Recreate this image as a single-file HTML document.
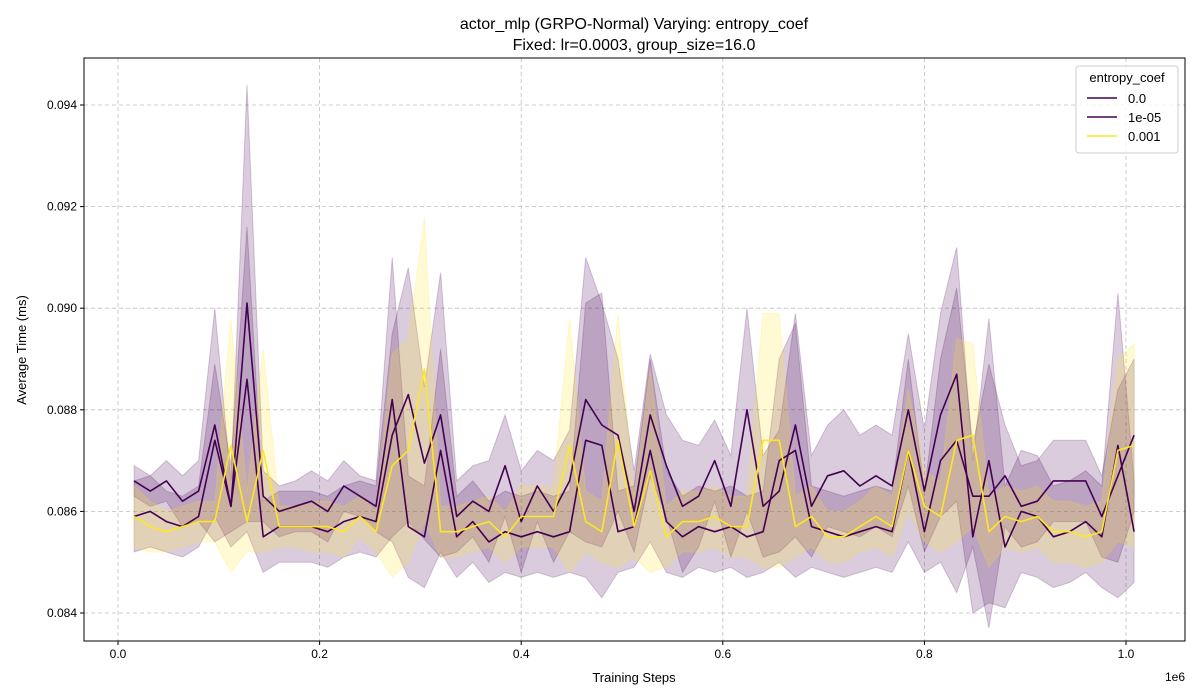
<!DOCTYPE html>
<html><head><meta charset="utf-8"><style>
body{margin:0;background:#fff;}
svg{display:block;font-family:"Liberation Sans","DejaVu Sans",sans-serif;}
</style></head><body>
<svg id="chart" width="1200" height="700" viewBox="0 0 1200 700"></svg>
<script>
const steps=[];for(let k=1;k<=63;k++)steps.push(k*16000);
const seriesA=[0.0866,0.0864,0.0866,0.0862,0.0864,0.0877,0.0861,0.0901,0.0863,0.0860,0.0861,0.0862,0.0860,0.0865,0.0863,0.0861,
0.0882,0.0857,
0.0855,0.0872,0.0855,0.0858,0.0854,0.0856,0.0855,0.0856,0.0855,0.0856,0.0874,0.0873,0.0856,0.0857,0.0872,0.0858,0.0855,0.0857,
0.0856,0.0857,0.0855,0.0856,0.0870,0.0872,0.0857,0.0856,0.0855,0.0856,0.0857,0.0856,0.0872,0.0856,0.0870,0.0874,
0.0863,0.0863,0.0867,0.0861,0.0862,0.0866,0.0866,0.0866,0.0859,0.0867,0.0875];
const spreadA=[.0003,.0003,.0004,.0005,.0006,.0023,.0005,.0043,.0005,.0005,.0005,.0006,.0006,.0005,.0004,.0005,
.0028,.0010,
.0010,.0020,.0008,.0008,.0008,.0008,.0008,.0008,.0008,.0008,.0027,.0030,.0008,.0008,.0018,.0010,.0008,.0008,
.0008,.0008,.0008,.0008,.0020,.0025,.0008,.0008,.0008,.0008,.0008,.0008,.0018,.0008,.0020,.0030,
.0010,.0026,.0010,.0008,.0008,.0008,.0008,.0008,.0008,.0017,.0015];
const seriesB=[0.0859,0.0860,0.0858,0.0857,0.0859,0.0874,0.0861,0.0886,0.0855,0.0857,0.0857,0.0857,0.0856,0.0858,0.0859,0.0858,
0.0875,0.0883,
0.08695,0.0879,0.0859,0.0862,0.0860,0.0869,0.0858,0.0865,0.0860,0.0866,0.0882,0.0877,0.0875,0.0860,0.0879,0.0869,0.0861,0.0863,
0.0870,0.0861,0.0880,0.0861,0.0864,0.0877,0.0861,0.0867,0.0868,0.0865,0.0867,0.0865,0.0880,0.0864,0.0879,0.0887,
0.0855,0.0870,0.0853,0.0860,0.0859,0.0855,0.0856,0.0858,0.0855,0.0873,0.0856];
const spreadB=[.0007,.0007,.0006,.0006,.0006,.0015,.0008,.0030,.0007,.0007,.0007,.0007,.0007,.0007,.0007,.0007,
.0020,.0025,
.0015,.0028,.0007,.0007,.0010,.0010,.0010,.0007,.0010,.0010,.0028,.0024,.0015,.0008,.0012,.0010,.0013,.0010,
.0008,.0010,.0020,.0010,.0012,.0022,.0010,.0010,.0012,.0010,.0010,.0010,.0015,.0012,.0020,.0025,
.0015,.0028,.0012,.0012,.0012,.0010,.0010,.0010,.0010,.0030,.0010];
const seriesY=[0.0859,0.0857,0.0856,0.0857,0.0858,0.0858,0.0873,0.0858,0.0872,0.0857,0.0857,0.0857,0.0857,0.0856,0.0859,0.0856,0.0869,
0.0872,0.0888,0.0856,0.0856,0.0857,0.0858,0.0855,0.0859,0.0859,0.0859,0.0873,0.0858,0.0856,0.0874,0.0857,0.0868,0.0855,0.0858,0.0858,
0.0859,0.0857,0.0857,0.0874,0.0874,0.0857,0.0859,0.0855,0.0855,0.0857,0.0859,0.0857,0.0872,0.0861,0.0859,0.0874,0.0875,0.0856,
0.0859,0.0858,0.0859,0.0856,0.0856,0.0855,0.0856,0.0872,0.0873];
const spreadY=[.0006,.0005,.0004,.0004,.0004,.0004,.0025,.0006,.0020,.0004,.0004,.0005,.0005,.0005,.0004,.0004,.0022,
.0022,.0030,.0005,.0005,.0005,.0005,.0005,.0006,.0006,.0006,.0025,.0006,.0006,.0025,.0006,.0020,.0006,.0006,.0006,
.0006,.0006,.0006,.0025,.0025,.0006,.0006,.0005,.0005,.0005,.0006,.0006,.0012,.0007,.0007,.0020,.0018,.0007,
.0006,.0006,.0006,.0006,.0006,.0006,.0006,.0018,.0020];
const xTicks=[0,0.2,0.4,0.6,0.8,1.0];
const xTickLabels=["0.0","0.2","0.4","0.6","0.8","1.0"];
const yTicks=[0.084,0.086,0.088,0.090,0.092,0.094];
const yTickLabels=["0.084","0.086","0.088","0.090","0.092","0.094"];
const legendLabels=["0.0","1e-05","0.001"];

const L=84,R=1185,T=58,B=641;
const xs=v=>118+v/1e6*1008;
const ys=v=>613-(v-0.084)*101600/2;
const svg=document.getElementById('chart');
const NS='http://www.w3.org/2000/svg';
function mk(tag,attrs,parent){const e=document.createElementNS(NS,tag);for(const k in attrs)e.setAttribute(k,attrs[k]);(parent||svg).appendChild(e);return e;}

let t=mk('text',{x:634,y:29,'text-anchor':'middle','font-size':16,fill:'#000'});t.textContent='actor_mlp (GRPO-Normal) Varying: entropy_coef';


t=mk('text',{x:634,y:50,'text-anchor':'middle','font-size':16,fill:'#000'});t.textContent='Fixed: lr=0.0003, group_size=16.0';



const grid=mk('g',{});


xTicks.forEach(v=>{const x=xs(v*1e6);mk('line',{x1:x,x2:x,y1:T,y2:B,stroke:'#b0b0b0','stroke-width':0.8,'stroke-dasharray':'4,3',opacity:0.8},grid);});
yTicks.forEach(v=>{const y=ys(v);mk('line',{x1:L,x2:R,y1:y,y2:y,stroke:'#b0b0b0','stroke-width':0.8,'stroke-dasharray':'4,3',opacity:0.8},grid);});

function band(vals,sp,color,name){
  let d='';vals.forEach((v,i)=>{d+=(i?'L':'M')+xs(steps[i]).toFixed(1)+','+ys(v+sp[i]).toFixed(1);});
  for(let i=vals.length-1;i>=0;i--)d+='L'+xs(steps[i]).toFixed(1)+','+ys(vals[i]-sp[i]).toFixed(1);
  const p=mk('path',{d:d+'Z',fill:color,'fill-opacity':0.2,stroke:color,'stroke-opacity':0.2});
  
  
}
function line(vals,color,name){
  let d='';vals.forEach((v,i)=>{d+=(i?'L':'M')+xs(steps[i]).toFixed(1)+','+ys(v).toFixed(1);});
  const p=mk('path',{d:d,fill:'none',stroke:color,'stroke-width':1.6,'stroke-linejoin':'round'});
  
  
}
band(seriesA,spreadA,'#440154','band-0.0');
band(seriesB,spreadB,'#440154','band-1e-05');
band(seriesY,spreadY,'#fde725','band-0.001');
line(seriesA,'#440154','line-0.0');
line(seriesB,'#440154','line-1e-05');
line(seriesY,'#fde725','line-0.001');

const fr=mk('rect',{x:L,y:T,width:R-L,height:B-T,fill:'none',stroke:'#000','stroke-width':1});


xTicks.forEach((v,i)=>{const x=xs(v*1e6);mk('line',{x1:x,x2:x,y1:B,y2:B+4,stroke:'#000'});
  const tt=mk('text',{x:x,y:B+17,'text-anchor':'middle','font-size':12,fill:'#000'});tt.textContent=xTickLabels[i];
  
  });
yTicks.forEach((v,i)=>{const y=ys(v);mk('line',{x1:L-4,x2:L,y1:y,y2:y,stroke:'#000'});
  const tt=mk('text',{x:L-7,y:y+4,'text-anchor':'end','font-size':12,fill:'#000'});tt.textContent=yTickLabels[i];
  
  });
t=mk('text',{x:634,y:682,'text-anchor':'middle','font-size':13,fill:'#000'});t.textContent='Training Steps';


t=mk('text',{x:1185,y:681,'text-anchor':'end','font-size':12,fill:'#000'});t.textContent='1e6';


t=mk('text',{x:0,y:0,'text-anchor':'middle','font-size':13,fill:'#000',transform:'translate(26,350) rotate(-90)'});t.textContent='Average Time (ms)';



const lg=mk('g',{});


mk('rect',{x:1076,y:66,width:102,height:87,rx:3,fill:'#fff','fill-opacity':0.8,stroke:'#ccc'},lg);
t=mk('text',{x:1127,y:82,'text-anchor':'middle','font-size':13,fill:'#000'},lg);t.textContent='entropy_coef';
const lc=['#440154','#440154','#fde725'];
legendLabels.forEach((s,i)=>{const y=98+i*19;
  const e=mk('g',{},lg);
  
  
  mk('line',{x1:1087,x2:1117,y1:y,y2:y,stroke:lc[i],'stroke-width':1.6},e);
  const tx=mk('text',{x:1128,y:y+5,'font-size':13,fill:'#000'},e);tx.textContent=s;});
</script>
</body></html>
